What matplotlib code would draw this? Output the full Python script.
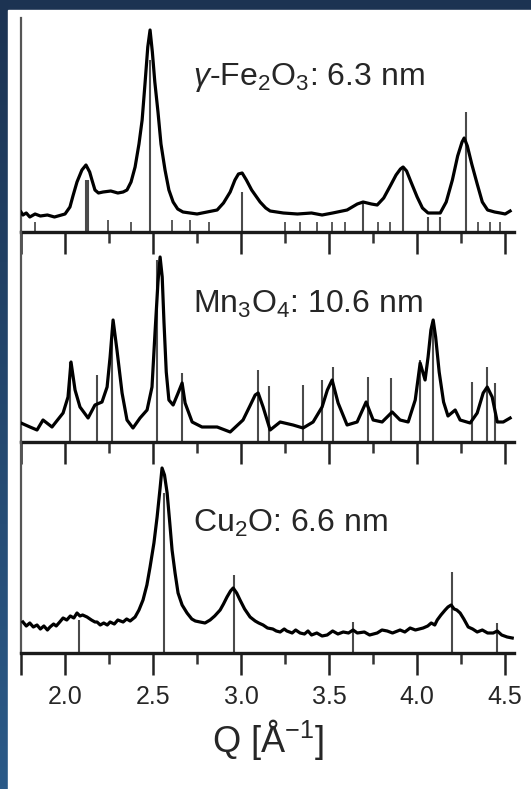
import numpy as np
import matplotlib
matplotlib.use("Agg")
import matplotlib.pyplot as plt
from matplotlib.patches import Rectangle
from matplotlib.ticker import FixedLocator, NullFormatter

plt.rcParams['font.family'] = ['Liberation Sans', 'DejaVu Sans']
plt.rcParams['mathtext.fontset'] = 'custom'
plt.rcParams['mathtext.rm'] = 'Liberation Sans'
plt.rcParams['mathtext.it'] = 'Liberation Sans:italic'

# ---- data (Q in 1/A, intensity in arbitrary units) ----
fe_q = [1.750, 1.761, 1.780, 1.800, 1.830, 1.860, 1.900, 1.940, 1.980, 2.000, 2.028, 2.045,
        2.068, 2.096, 2.119, 2.140, 2.153, 2.170, 2.190, 2.216, 2.260, 2.300, 2.330, 2.352,
        2.375, 2.398, 2.420, 2.438, 2.455, 2.470, 2.483, 2.496, 2.510, 2.528, 2.545, 2.568,
        2.590, 2.614, 2.640, 2.670, 2.750, 2.864, 2.900, 2.938, 2.965, 2.985, 3.006, 3.030,
        3.060, 3.108, 3.140, 3.165, 3.240, 3.320, 3.400, 3.460, 3.520, 3.602, 3.660, 3.693,
        3.740, 3.773, 3.810, 3.850, 3.880, 3.905, 3.920, 3.940, 3.965, 4.000, 4.030, 4.062,
        4.131, 4.165, 4.200, 4.230, 4.255, 4.267, 4.285, 4.310, 4.341, 4.370, 4.400, 4.440,
        4.472, 4.500, 4.528]
fe_i = [20, 17, 19, 15, 18, 16, 17, 15, 17, 18, 25, 36,
        50, 62, 67, 60, 52, 42, 39, 40, 41, 39, 40, 42,
        50, 65, 88, 112, 150, 185, 202, 180, 150, 120, 88, 62,
        42, 30, 23, 20, 18, 22, 29, 40, 52, 58, 59, 52,
        42, 30, 24, 21, 19, 18, 19, 17, 19, 22, 28, 30,
        28, 27, 34, 47, 57, 63, 65, 61, 50, 35, 24, 19,
        19, 30, 52, 76, 90, 94, 86, 68, 48, 30, 22, 20,
        19, 18, 21]
fe_ref_q = [2.119, 2.128, 2.483, 3.006, 3.693, 3.920, 4.062, 4.131, 4.278]
fe_ref_h = [52, 52, 172, 40, 29, 65, 15, 15, 120]
fe_small_q = [1.830, 2.245, 2.375, 2.608, 2.710, 2.818, 3.250, 3.335, 3.432, 3.517,
              3.591, 3.778, 3.847, 4.347, 4.415, 4.472]
fe_small_h = [10, 12, 10, 12, 12, 10, 10, 10, 10, 10, 10, 10, 10, 10, 10, 10]

mn_q = [1.750, 1.801, 1.841, 1.875, 1.926, 1.989, 2.017, 2.034, 2.057, 2.085, 2.131, 2.170,
        2.210, 2.239, 2.256, 2.273, 2.295, 2.324, 2.352, 2.386, 2.426, 2.466, 2.494, 2.511,
        2.528, 2.540, 2.552, 2.562, 2.575, 2.590, 2.614, 2.640, 2.665, 2.682, 2.722, 2.778,
        2.864, 2.938, 3.011, 3.050, 3.080, 3.097, 3.125, 3.165, 3.222, 3.295, 3.352, 3.409,
        3.460, 3.490, 3.517, 3.551, 3.602, 3.659, 3.710, 3.750, 3.801, 3.858, 3.903, 3.949,
        3.989, 4.017, 4.045, 4.062, 4.078, 4.091, 4.105, 4.125, 4.150, 4.175, 4.216, 4.244,
        4.301, 4.341, 4.375, 4.398, 4.426, 4.455, 4.489, 4.528]
mn_i = [19, 15, 12, 22, 15, 29, 45, 80, 52, 35, 24, 37,
        40, 55, 85, 122, 92, 49, 22, 14, 24, 32, 55, 109,
        160, 185, 165, 120, 70, 42, 37, 48, 59, 39, 20, 15,
        15, 10, 22, 36, 47, 49, 35, 12, 20, 17, 14, 20,
        35, 52, 62, 39, 17, 20, 40, 22, 20, 30, 22, 20,
        42, 79, 62, 85, 112, 122, 105, 70, 40, 26, 32, 22,
        19, 29, 49, 55, 45, 20, 20, 24]
mn_ref_q = [2.028, 2.182, 2.267, 2.523, 2.665, 3.097, 3.159, 3.352, 3.459, 3.521,
            3.722, 3.852, 4.017, 4.091, 4.312, 4.398, 4.443]
mn_ref_h = [80, 67, 112, 182, 69, 72, 56, 57, 62, 75,
            65, 64, 82, 122, 60, 75, 59]

cu_q = [1.761, 1.780, 1.800, 1.820, 1.841, 1.860, 1.880, 1.900, 1.915, 1.935, 1.950, 1.970,
        1.989, 2.010, 2.030, 2.050, 2.068, 2.085, 2.100, 2.125, 2.150, 2.170, 2.182, 2.200,
        2.220, 2.240, 2.256, 2.280, 2.300, 2.330, 2.350, 2.370, 2.398, 2.420, 2.443, 2.465,
        2.483, 2.505, 2.523, 2.540, 2.551, 2.565, 2.580, 2.595, 2.608, 2.625, 2.642, 2.665,
        2.693, 2.720, 2.740, 2.767, 2.795, 2.824, 2.850, 2.881, 2.900, 2.920, 2.940, 2.955,
        2.975, 2.994, 3.020, 3.051, 3.080, 3.100, 3.125, 3.150, 3.180, 3.200, 3.222, 3.245,
        3.260, 3.290, 3.310, 3.335, 3.360, 3.380, 3.400, 3.430, 3.460, 3.489, 3.520, 3.550,
        3.580, 3.610, 3.636, 3.660, 3.700, 3.730, 3.773, 3.800, 3.830, 3.860, 3.903, 3.930,
        3.960, 3.990, 4.034, 4.060, 4.080, 4.100, 4.114, 4.135, 4.159, 4.175, 4.193, 4.210,
        4.225, 4.244, 4.265, 4.290, 4.315, 4.341, 4.370, 4.400, 4.432, 4.455, 4.480, 4.511,
        4.540]
cu_i = [31, 27, 30, 26, 28, 24, 27, 23, 26, 29, 27, 31,
        35, 33, 37, 35, 40, 37, 38, 36, 33, 31, 31, 28,
        30, 28, 31, 29, 33, 31, 34, 32, 36, 43, 53, 68,
        86, 110, 136, 165, 185, 178, 160, 130, 103, 80, 60, 48,
        40, 34, 32, 31, 30, 33, 37, 43, 49, 56, 62, 65,
        60, 53, 44, 36, 32, 30, 28, 25, 24, 22, 21, 24,
        22, 20, 23, 20, 19, 22, 18, 20, 17, 18, 22, 19,
        21, 20, 23, 20, 21, 18, 20, 23, 22, 20, 23, 21,
        25, 23, 25, 27, 30, 28, 33, 38, 43, 46, 48, 44,
        43, 40, 34, 26, 24, 21, 23, 20, 20, 22, 18, 16,
        15]
cu_ref_q = [2.080, 2.562, 2.960, 3.636, 4.199, 4.455]
cu_ref_h = [33, 160, 78, 31, 81, 30]

labels = [r'$\gamma$-Fe$_2$O$_3$: 6.3 nm', r'Mn$_3$O$_4$: 10.6 nm', r'Cu$_2$O: 6.6 nm']
major_ticks = [1.75, 2.0, 2.5, 3.0, 3.5, 4.0, 4.5]
minor_ticks = [2.25, 2.75, 3.25, 3.75, 4.25]
tick_labels = ['', '2.0', '2.5', '3.0', '3.5', '4.0', '4.5']

W, H = 531, 789
fig = plt.figure(figsize=(W / 100, H / 100), dpi=100)

# blue frame behind the white plate
bg = fig.add_axes([0, 0, 1, 1], zorder=-10)
grad = np.linspace(0, 1, 256).reshape(-1, 1)
cmap = matplotlib.colors.LinearSegmentedColormap.from_list('frame', ['#1c3352', '#2b5a88'])
bg.imshow(grad, extent=[0, 1, 0, 1], aspect='auto', cmap=cmap, origin='upper')
bg.add_patch(Rectangle((8 / W, 0), 1, 1 - 10 / H, color='white'))
bg.set_xlim(0, 1)
bg.set_ylim(0, 1)
bg.axis('off')

# panel boxes in pixels: (top, bottom)
panels = [(18, 232), (232, 442), (442, 653)]
x0, x1 = 21, 514
series = [(fe_q, fe_i, fe_ref_q, fe_ref_h), (mn_q, mn_i, mn_ref_q, mn_ref_h),
          (cu_q, cu_i, cu_ref_q, cu_ref_h)]
label_y = [0.687, 0.614, 0.573]

for k, ((top, bot), (q, inten, rq, rh)) in enumerate(zip(panels, series)):
    ax = fig.add_axes([x0 / W, 1 - bot / H, (x1 - x0) / W, (bot - top) / H])
    ax.patch.set_alpha(0)
    ax.set_xlim(1.75, 4.55)
    ax.set_ylim(0, bot - top)
    ax.vlines(rq, 0, rh, color='#4a4a4a', lw=1.5, zorder=2)
    if k == 0:
        ax.vlines(fe_small_q, 0, fe_small_h, color='#5a5a5a', lw=1.4, zorder=2)
    ax.plot(q, inten, color='black', lw=2.3, zorder=3, solid_joinstyle='round')
    ax.text(0.349, label_y[k], labels[k], transform=ax.transAxes, fontsize=23,
            color='#262626', va='baseline', ha='left')

    for s in ['top', 'right']:
        ax.spines[s].set_visible(False)
    ax.spines['bottom'].set_linewidth(2.4)
    ax.spines['bottom'].set_color('#1a1a1a')
    ax.spines['left'].set_linewidth(1.6)
    ax.spines['left'].set_color('#555555')
    ax.set_yticks([])
    ax.xaxis.set_major_locator(FixedLocator(major_ticks))
    ax.xaxis.set_minor_locator(FixedLocator(minor_ticks))
    ax.tick_params(axis='x', which='major', direction='out', length=16, width=1.8,
                   color='#222222', pad=7, labelsize=18, labelcolor='#262626')
    ax.tick_params(axis='x', which='minor', direction='out', length=8, width=1.8,
                   color='#333333')
    if k < 2:
        ax.xaxis.set_major_formatter(NullFormatter())
    else:
        ax.set_xticklabels(tick_labels)
        ax.set_xlabel(r'Q [Å$^{-1}$]', fontsize=26, color='#262626', labelpad=6)

fig.savefig('out.png', dpi=100)
